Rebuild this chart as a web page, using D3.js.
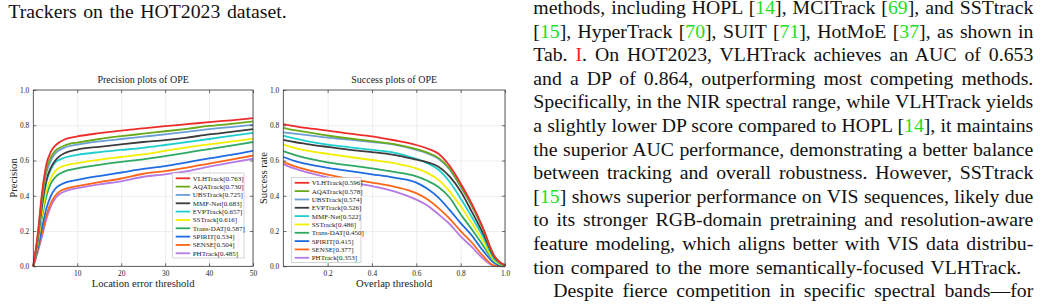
<!DOCTYPE html>
<html>
<head>
<meta charset="utf-8">
<script src="https://cdn.jsdelivr.net/npm/d3@7"></script>
<style>
  body { margin: 0; background: #fff; }
  svg { display: block; }
  text { font-family: "Liberation Serif", "Times New Roman", serif; }
</style>
</head>
<body>
<div id="page"></div>
<script>
// colours are given by rank, the same in both legends
var colors = ["#ee2c2c", "#6aaa1a", "#6c9fd6", "#3c3c3c", "#1fcfcf",
              "#f4ef00", "#2fa862", "#1f6be3", "#ff6618", "#b67ae6"];

// precision plot
var precThresholds = [0, 1, 2, 3, 4, 5, 6, 7, 8, 10, 15, 20, 25, 30, 35, 40, 45, 50];
var precNames = ["VLHTrack[0.763]", "AQATrack[0.730]", "UBSTrack[0.725]", "MMF-Net[0.683]", "EVPTrack[0.657]",
                 "SSTrack[0.616]", "Trans-DAT[0.587]", "SPIRIT[0.534]", "SENSE[0.504]", "PHTrack[0.485]"];
var precValues = [
  [0, 0.18, 0.42, 0.58, 0.65, 0.685, 0.705, 0.718, 0.727, 0.737, 0.755, 0.770, 0.782, 0.795, 0.806, 0.818, 0.828, 0.840],
  [0, 0.17, 0.40, 0.55, 0.62, 0.655, 0.672, 0.684, 0.693, 0.702, 0.722, 0.738, 0.752, 0.766, 0.780, 0.796, 0.808, 0.822],
  [0, 0.16, 0.38, 0.53, 0.60, 0.640, 0.660, 0.672, 0.681, 0.690, 0.708, 0.722, 0.735, 0.748, 0.763, 0.778, 0.790, 0.803],
  [0, 0.15, 0.35, 0.49, 0.56, 0.600, 0.625, 0.640, 0.650, 0.662, 0.678, 0.692, 0.705, 0.716, 0.730, 0.748, 0.762, 0.778],
  [0, 0.15, 0.34, 0.48, 0.55, 0.590, 0.605, 0.615, 0.622, 0.632, 0.648, 0.660, 0.672, 0.688, 0.705, 0.722, 0.740, 0.757],
  [0, 0.13, 0.30, 0.43, 0.50, 0.540, 0.560, 0.570, 0.577, 0.585, 0.605, 0.620, 0.635, 0.655, 0.675, 0.692, 0.707, 0.723],
  [0, 0.12, 0.28, 0.40, 0.47, 0.505, 0.525, 0.537, 0.545, 0.555, 0.575, 0.592, 0.607, 0.625, 0.645, 0.665, 0.685, 0.705],
  [0, 0.10, 0.22, 0.33, 0.40, 0.440, 0.460, 0.472, 0.480, 0.490, 0.512, 0.532, 0.552, 0.568, 0.590, 0.612, 0.632, 0.655],
  [0, 0.09, 0.19, 0.29, 0.36, 0.400, 0.425, 0.437, 0.445, 0.455, 0.478, 0.498, 0.525, 0.540, 0.560, 0.583, 0.605, 0.628],
  [0, 0.08, 0.17, 0.27, 0.34, 0.385, 0.410, 0.423, 0.432, 0.443, 0.465, 0.482, 0.508, 0.522, 0.540, 0.565, 0.588, 0.610]
];

// success plot
var succThresholds = [0, 0.05, 0.1, 0.2, 0.3, 0.4, 0.5, 0.6, 0.65, 0.7, 0.75, 0.8, 0.85, 0.9, 0.95, 1.0];
var succNames = ["VLHTrack[0.596]", "AQATrack[0.578]", "UBSTrack[0.574]", "EVPTrack[0.526]", "MMF-Net[0.522]",
                 "SSTrack[0.486]", "Trans-DAT[0.450]", "SPIRIT[0.415]", "SENSE[0.377]", "PHTrack[0.353]"];
var succValues = [
  [0.807, 0.795, 0.785, 0.770, 0.752, 0.737, 0.715, 0.688, 0.668, 0.638, 0.570, 0.470, 0.355, 0.220, 0.060, 0.005],
  [0.785, 0.772, 0.762, 0.742, 0.725, 0.710, 0.693, 0.665, 0.645, 0.615, 0.555, 0.455, 0.345, 0.215, 0.060, 0.005],
  [0.760, 0.752, 0.745, 0.730, 0.718, 0.705, 0.690, 0.660, 0.640, 0.610, 0.550, 0.450, 0.342, 0.215, 0.065, 0.005],
  [0.717, 0.705, 0.695, 0.677, 0.660, 0.648, 0.632, 0.605, 0.590, 0.565, 0.510, 0.425, 0.310, 0.190, 0.055, 0.005],
  [0.741, 0.725, 0.712, 0.690, 0.675, 0.660, 0.645, 0.610, 0.585, 0.548, 0.480, 0.385, 0.280, 0.170, 0.045, 0.003],
  [0.690, 0.672, 0.658, 0.638, 0.620, 0.603, 0.585, 0.556, 0.530, 0.490, 0.425, 0.340, 0.245, 0.145, 0.035, 0.002],
  [0.653, 0.632, 0.615, 0.590, 0.572, 0.555, 0.535, 0.510, 0.485, 0.450, 0.390, 0.295, 0.210, 0.120, 0.030, 0.002],
  [0.620, 0.598, 0.582, 0.558, 0.540, 0.522, 0.503, 0.475, 0.440, 0.390, 0.320, 0.245, 0.175, 0.090, 0.020, 0.000],
  [0.592, 0.568, 0.550, 0.520, 0.495, 0.475, 0.452, 0.415, 0.380, 0.330, 0.270, 0.200, 0.135, 0.060, 0.005, 0.000],
  [0.580, 0.555, 0.535, 0.505, 0.478, 0.455, 0.425, 0.378, 0.345, 0.295, 0.240, 0.170, 0.110, 0.045, 0.003, 0.000]
];

// surrounding paper text: {..} = green citation, <..> = red reference
var captionLine = "Trackers on the HOT2023 dataset.";
var bodyLines = [
  "methods, including HOPL [{14}], MCITrack [{69}], and SSTtrack",
  "[{15}], HyperTrack [{70}], SUIT [{71}], HotMoE [{37}], as shown in",
  "Tab. <I>. On HOT2023, VLHTrack achieves an AUC of 0.653",
  "and a DP of 0.864, outperforming most competing methods.",
  "Specifically, in the NIR spectral range, while VLHTrack yields",
  "a slightly lower DP score compared to HOPL [{14}], it maintains",
  "the superior AUC performance, demonstrating a better balance",
  "between tracking and overall robustness. However, SSTtrack",
  "[{15}] shows superior performance on VIS sequences, likely due",
  "to its stronger RGB-domain pretraining and resolution-aware",
  "feature modeling, which aligns better with VIS data distribu-",
  "tion compared to the more semantically-focused VLHTrack.",
  "Despite fierce competition in specific spectral bands\u2014for"
];

var svg = d3.select("#page").append("svg")
    .attr("width", 1042)
    .attr("height", 304);

// ---------- text ----------
function addLine(str, x, y, targetWidth) {
  var t = svg.append("text")
      .attr("x", x).attr("y", y)
      .attr("font-size", 19.75)
      .attr("fill", "#111");
  var parts = str.split(/(\{[^}]*\}|<[^>]*>)/);
  parts.forEach(function(p) {
    if (!p) return;
    var col = "#111";
    if (p[0] == "{") { col = "#22dd22"; p = p.slice(1, -1); }
    else if (p[0] == "<") { col = "#ff1a1a"; p = p.slice(1, -1); }
    t.append("tspan").attr("fill", col).text(p);
  });
  if (targetWidth) {
    var w = t.node().getComputedTextLength();
    var spaces = str.split(" ").length - 1;
    if (spaces > 0) t.attr("word-spacing", (targetWidth - w) / spaces);
  }
}

addLine(captionLine, 8.3, 18.3, 278.4);
bodyLines.forEach(function(l, i) {
  var x = 533.3, w = 500;
  if (i == 11) w = 488;
  if (i == 12) { x = 553.3; w = 480; }
  addLine(l, x, 14 + i * 23.6, w);
});

// ---------- plots ----------
function drawPlot(opt) {
  var x = d3.scaleLinear().domain(opt.xDomain).range([opt.left, opt.right]);
  var y = d3.scaleLinear().domain([0, 1]).range([266.3, 90]);
  var g = svg.append("g");

  // grid
  g.append("g")
    .attr("transform", "translate(0,90)")
    .call(d3.axisBottom(x).tickValues(opt.xTicks).tickSize(176.3).tickFormat(""))
    .call(function(s) { s.select(".domain").remove(); s.selectAll("line").attr("stroke", "#e2e2e2").attr("stroke-width", 0.6); });
  g.append("g")
    .attr("transform", "translate(" + opt.left + ",0)")
    .call(d3.axisRight(y).tickValues([0.2, 0.4, 0.6, 0.8]).tickSize(opt.right - opt.left).tickFormat(""))
    .call(function(s) { s.select(".domain").remove(); s.selectAll("line").attr("stroke", "#e2e2e2").attr("stroke-width", 0.6); });

  // curves
  var line = d3.line().curve(d3.curveMonotoneX)
      .x(function(d) { return x(d[0]); })
      .y(function(d) { return y(d[1]); });
  for (var k = opt.values.length - 1; k >= 0; k--) {
    var pts = opt.xs.map(function(v, i) { return [v, opt.values[k][i]]; });
    g.append("path")
      .attr("d", line(pts))
      .attr("fill", "none")
      .attr("stroke", colors[k])
      .attr("stroke-width", 1.8);
  }

  // axes with inside ticks
  var axStyle = function(s) {
    s.select(".domain").remove();
    s.selectAll("line").attr("stroke", "#333").attr("stroke-width", 0.7);
    s.selectAll("text").attr("font-size", 7.4).attr("fill", "#222")
      .attr("font-family", "Liberation Serif, serif");
  };
  g.append("g").attr("transform", "translate(0,266.3)")
    .call(d3.axisBottom(x).tickValues(opt.xTicks).tickFormat(opt.xFmt).tickSizeInner(-3).tickSizeOuter(0).tickPadding(4.3))
    .call(axStyle);
  g.append("g").attr("transform", "translate(0,90)")
    .call(d3.axisTop(x).tickValues(opt.xTicks).tickFormat("").tickSizeInner(-3).tickSizeOuter(0))
    .call(axStyle);
  g.append("g").attr("transform", "translate(" + opt.left + ",0)")
    .call(d3.axisLeft(y).tickValues([0, 0.2, 0.4, 0.6, 0.8, 1]).tickFormat(d3.format(".1f")).tickSizeInner(-3).tickSizeOuter(0).tickPadding(4))
    .call(axStyle);
  g.append("g").attr("transform", "translate(" + opt.right + ",0)")
    .call(d3.axisRight(y).tickValues([0.2, 0.4, 0.6, 0.8]).tickFormat("").tickSizeInner(-3).tickSizeOuter(0))
    .call(axStyle);

  g.append("rect")
    .attr("x", opt.left).attr("y", 90)
    .attr("width", opt.right - opt.left).attr("height", 176.3)
    .attr("fill", "none").attr("stroke", "#333").attr("stroke-width", 0.8);

  // titles
  var cx = (opt.left + opt.right) / 2;
  g.append("text").attr("x", cx).attr("y", 83).attr("text-anchor", "middle")
    .attr("font-size", 10).attr("fill", "#222").text(opt.title);
  g.append("text").attr("x", cx).attr("y", 287).attr("text-anchor", "middle")
    .attr("font-size", 10.6).attr("fill", "#222").text(opt.xLabel);
  g.append("text")
    .attr("transform", "translate(" + opt.yLabelX + ",178)rotate(-90)")
    .attr("text-anchor", "middle")
    .attr("font-size", 10.6).attr("fill", "#222").text(opt.yLabel);

  // legend
  var lg = g.append("g");
  lg.append("rect")
    .attr("x", opt.legX).attr("y", opt.legY)
    .attr("width", opt.legW).attr("height", 85)
    .attr("fill", "#fff").attr("stroke", "#b8b8b8").attr("stroke-width", 0.6);
  opt.names.forEach(function(n, i) {
    var yy = opt.legY + 5.3 + i * 8.33;
    lg.append("line")
      .attr("x1", opt.legX + 3).attr("x2", opt.legX + 17.5)
      .attr("y1", yy).attr("y2", yy)
      .attr("stroke", colors[i]).attr("stroke-width", 1.8);
    lg.append("text")
      .attr("x", opt.legX + 20).attr("y", yy + 2.5)
      .attr("font-size", 7).attr("fill", "#222").text(n);
  });
}

drawPlot({
  xDomain: [0, 50], left: 33.3, right: 253,
  xTicks: [10, 20, 30, 40, 50], xFmt: d3.format("d"),
  xs: precThresholds, values: precValues, names: precNames,
  title: "Precision plots of OPE", xLabel: "Location error threshold",
  yLabel: "Precision", yLabelX: 16.5,
  legX: 172.7, legY: 173, legW: 71.3
});

drawPlot({
  xDomain: [0, 1], left: 283.3, right: 505,
  xTicks: [0.2, 0.4, 0.6, 0.8, 1.0], xFmt: d3.format(".1f"),
  xs: succThresholds, values: succValues, names: succNames,
  title: "Success plots of OPE", xLabel: "Overlap threshold",
  yLabel: "Success rate", yLabelX: 267,
  legX: 291.7, legY: 177.5, legW: 69.3
});
</script>
</body>
</html>
